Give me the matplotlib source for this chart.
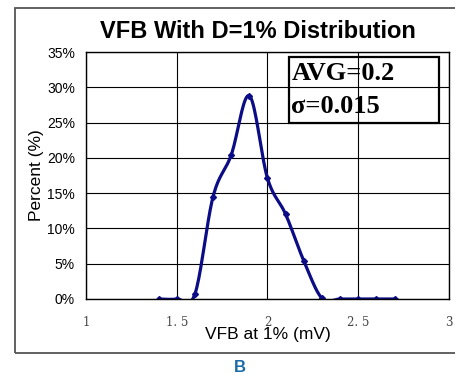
import numpy as np
import matplotlib.pyplot as plt
from matplotlib.patches import Rectangle

# データ
vfb = [1.4, 1.5, 1.6, 1.7, 1.8, 1.9, 2.0, 2.1, 2.2, 2.3, 2.4, 2.5, 2.6, 2.7]
pct = [0.0, 0.0, 0.7, 14.5, 20.4, 28.8, 17.1, 12.0, 5.4, 0.1, 0.0, 0.0, 0.0, 0.0]
xticks = [1, 1.5, 2, 2.5, 3]
xticklabels = ['1', '1. 5', '2', '2. 5', '3']
yticks = [0, 5, 10, 15, 20, 25, 30, 35]


def smooth(x, y, n=20):
    # Excel風のスムージング線 (Catmull-Rom)
    x = np.asarray(x, float)
    y = np.asarray(y, float)
    px = np.concatenate([[x[0]], x, [x[-1]]])
    py = np.concatenate([[y[0]], y, [y[-1]]])
    xs, ys = [], []
    t = np.linspace(0, 1, n)
    for i in range(1, len(px) - 2):
        for p, out in ((px, xs), (py, ys)):
            p0, p1, p2, p3 = p[i - 1], p[i], p[i + 1], p[i + 2]
            out.extend(0.5 * ((2 * p1) + (-p0 + p2) * t
                              + (2 * p0 - 5 * p1 + 4 * p2 - p3) * t ** 2
                              + (-p0 + 3 * p1 - 3 * p2 + p3) * t ** 3))
    return xs, ys


fig = plt.figure(figsize=(4.56, 3.73), dpi=100)
W, H = 456, 373

# 外枠
fig.patches.append(Rectangle((15 / W, 1 - 353 / H), 460 / W, 345 / H,
                             transform=fig.transFigure, fill=False,
                             edgecolor='#555555', linewidth=1.3))

ax = fig.add_axes([86 / W, 1 - 299 / H, 363 / W, 247 / H])
sx, sy = smooth(vfb, pct)
ax.plot(sx, sy, color='#0c0c86', linewidth=2.3, solid_capstyle='round')
ax.plot(vfb, pct, linestyle='none', marker='D', markersize=3, color='#0c0c86')

ax.set_xlim(1, 3)
ax.set_ylim(0, 35)
ax.set_xticks(xticks)
ax.set_xticklabels(xticklabels, family='DejaVu Serif', fontsize=8.5, color='#444444')
ax.set_yticks(yticks)
ax.set_yticklabels(['%d%%' % v for v in yticks], family='Liberation Sans', fontsize=10)
ax.tick_params(length=0, pad=8)
ax.tick_params(axis='x', pad=12)
ax.grid(True, color='black', linewidth=0.8)
ax.set_axisbelow(True)
for s in ax.spines.values():
    s.set_linewidth(1.0)

ax.set_xlabel('VFB at 1% (mV)', family='Liberation Sans', fontsize=12.5, labelpad=-1)
ax.set_ylabel('Percent (%)', family='Liberation Sans', fontsize=12.5, labelpad=2)

fig.text(258 / W, 1 - 32 / H, 'VFB With D=1% Distribution', family='Liberation Sans',
         fontsize=17, fontweight='bold', ha='center', va='center')

# 統計値ボックス（透明、グリッド線が透ける）
ax.add_patch(Rectangle((0.559, 0.713), 0.413, 0.267, transform=ax.transAxes,
                       facecolor='none', edgecolor='black', linewidth=1.6,
                       zorder=3, clip_on=False))
ax.text(0.566, 0.911, 'AVG=0.2', transform=ax.transAxes,
        family='Liberation Serif', fontsize=19, fontweight='bold',
        va='center', ha='left', zorder=4)
ax.text(0.566, 0.781, '\u03c3=0.015', transform=ax.transAxes,
        family='Liberation Serif', fontsize=19, fontweight='bold',
        va='center', ha='left', zorder=4)

fig.text(240 / W, 1 - 367 / H, 'B', family='Liberation Sans', fontsize=12,
         fontweight='bold', color='#1a6aa6', ha='center', va='center')

plt.savefig('out.png', dpi=100)
